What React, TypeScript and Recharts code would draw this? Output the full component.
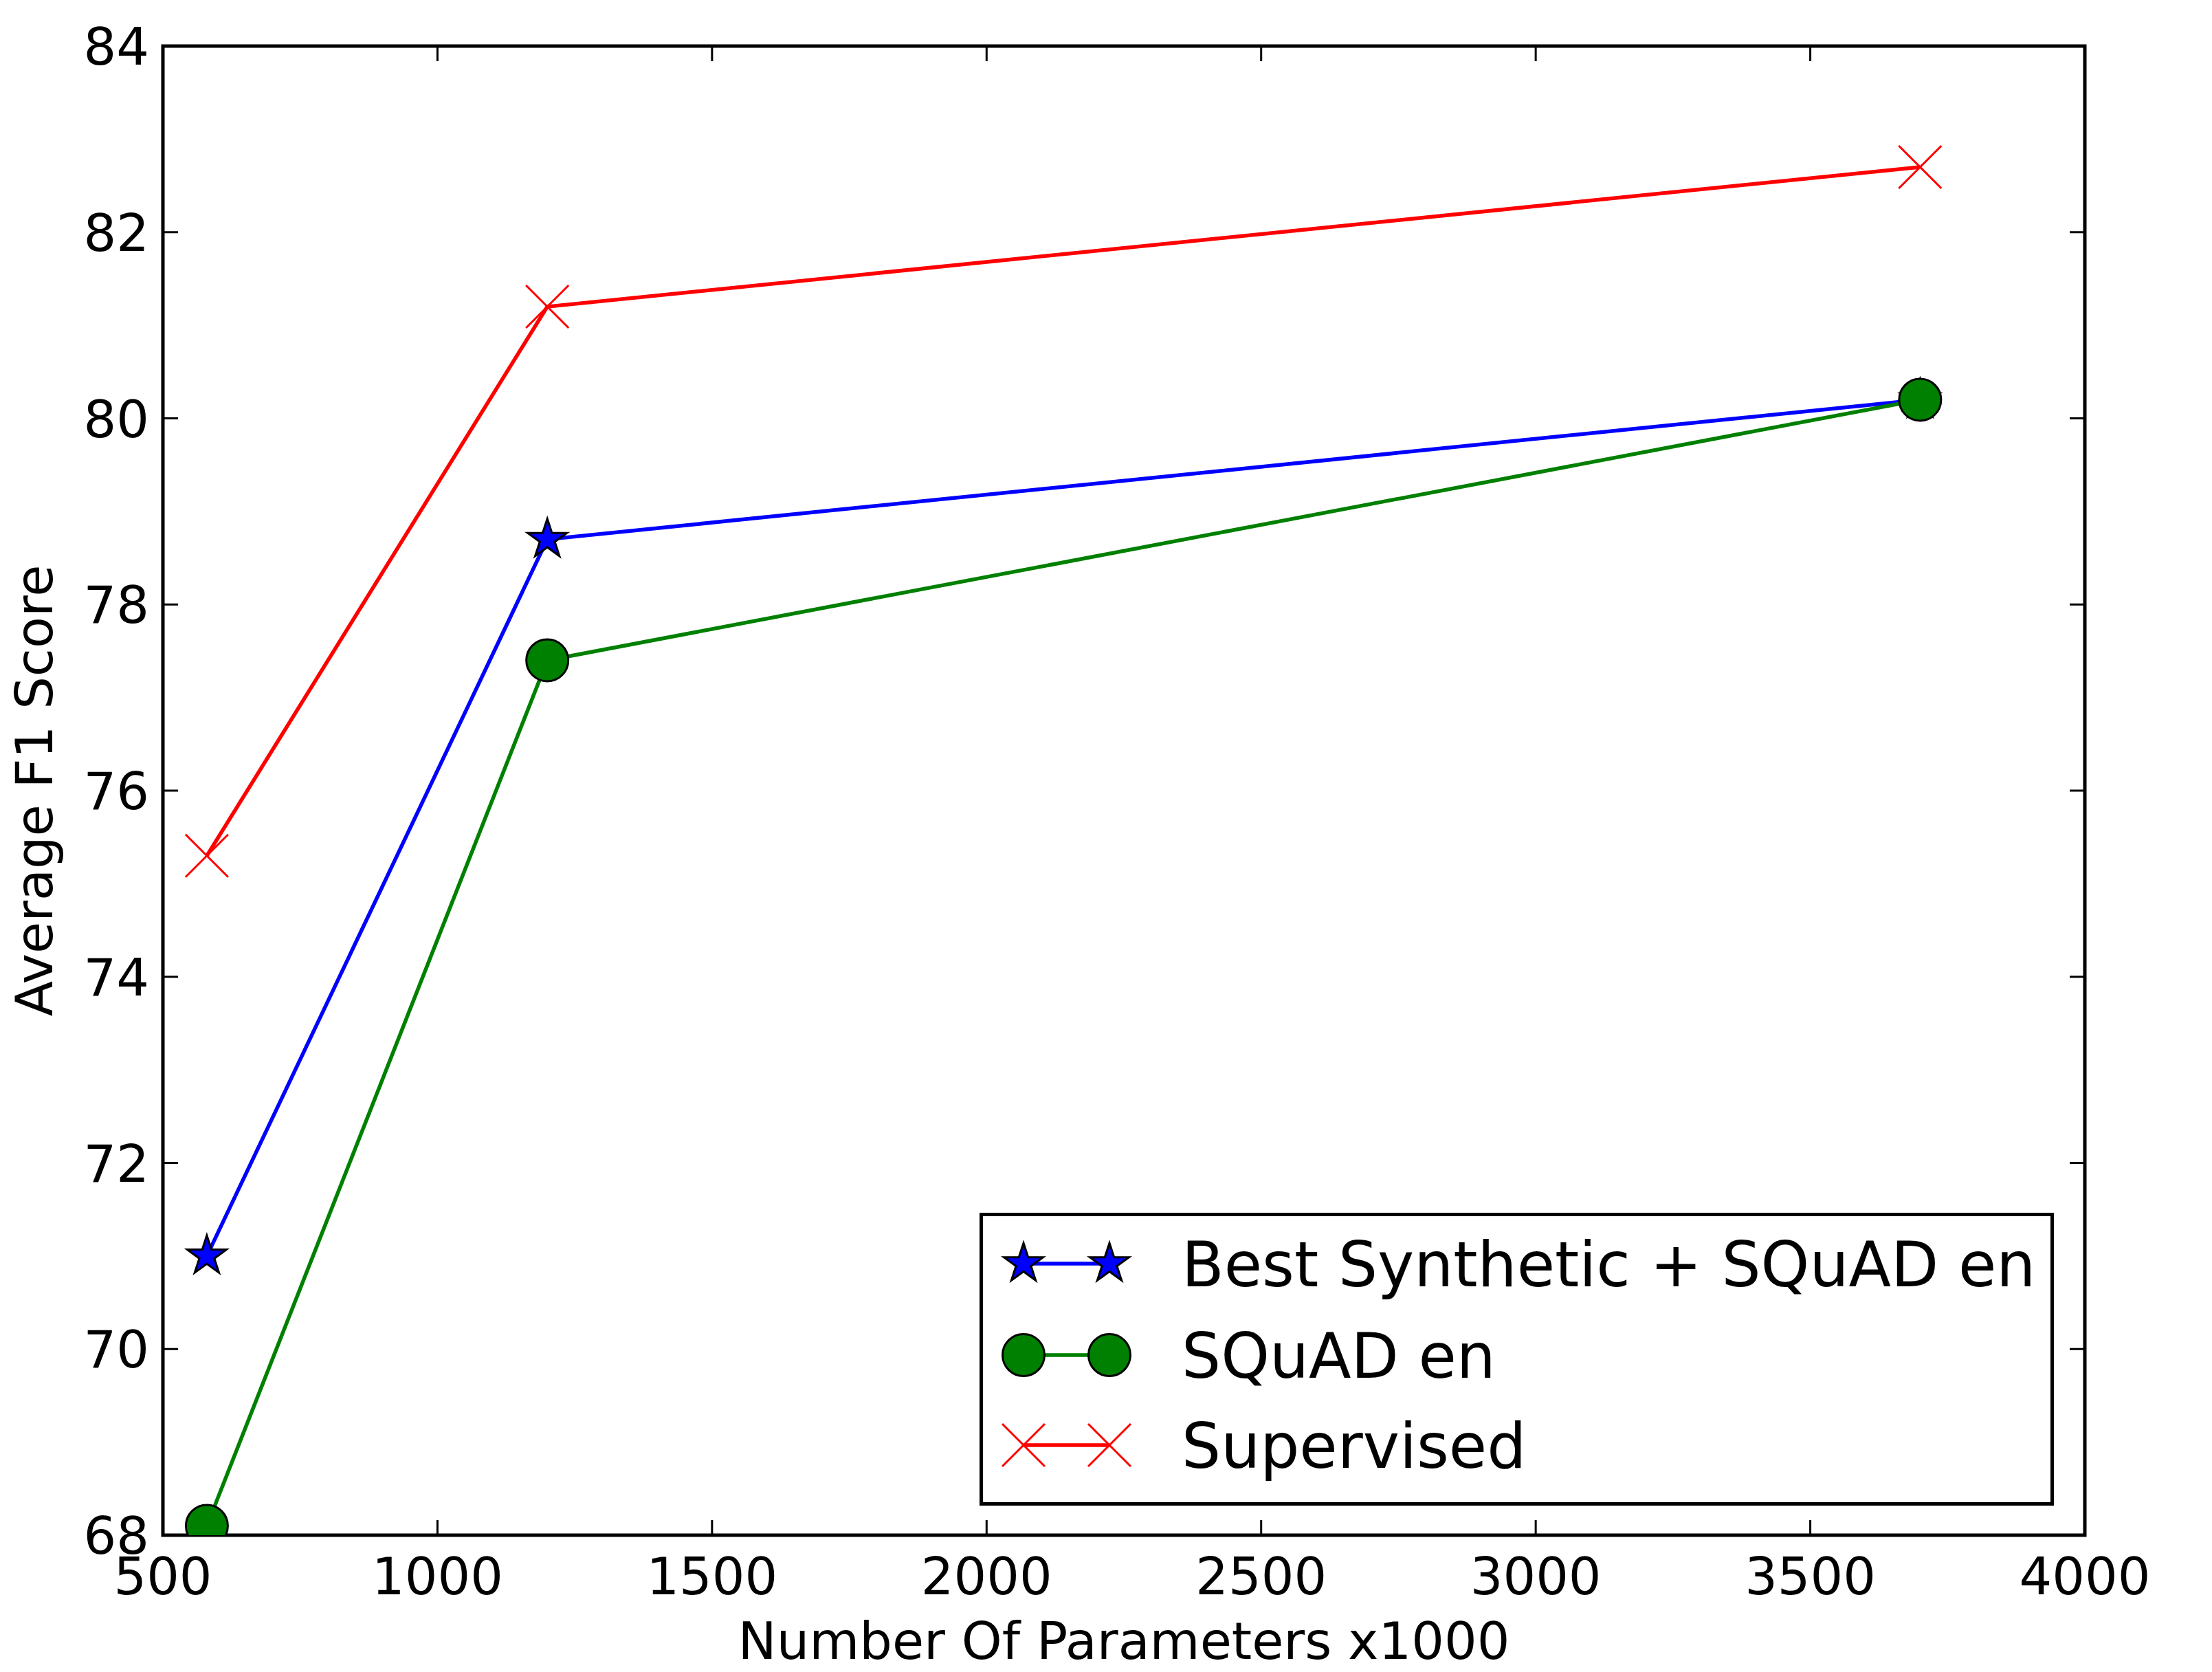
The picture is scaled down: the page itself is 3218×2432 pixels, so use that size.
import React from 'react';
import { LineChart, Line, XAxis, YAxis, ReferenceArea, Legend } from 'recharts';

const W = 3218;
const H = 2432;
const PLOT = { left: 237, top: 67, right: 3033, bottom: 2233 };
const FONT = '"DejaVu Sans", Verdana, sans-serif';
const TICK_LEN = 22;
const LINE_W = 5.5;

// values
const params = [580, 1200, 3700];
const bestSynthetic = [71.0, 78.7, 80.2];
const squadEn = [68.1, 77.4, 80.2];
const supervised = [75.3, 81.2, 82.7];

const xTicks = [500, 1000, 1500, 2000, 2500, 3000, 3500, 4000];
const yTicks = [68, 70, 72, 74, 76, 78, 80, 82, 84];

const series = [
  { key: 'best', name: 'Best Synthetic + SQuAD en', color: '#0000ff', marker: 'star' },
  { key: 'squad', name: 'SQuAD en', color: '#008000', marker: 'circle' },
  { key: 'sup', name: 'Supervised', color: '#ff0000', marker: 'x' },
];

const data = params.map((p, i) => ({
  p,
  best: bestSynthetic[i],
  squad: squadEn[i],
  sup: supervised[i],
}));

function starPoints(cx: number, cy: number, r: number) {
  const pts: string[] = [];
  const inner = r * 0.381966;
  for (let i = 0; i < 10; i++) {
    const rad = i % 2 === 0 ? r : inner;
    const a = -Math.PI / 2 + (i * Math.PI) / 5;
    pts.push(`${cx + rad * Math.cos(a)},${cy + rad * Math.sin(a)}`);
  }
  return pts.join(' ');
}

function Marker({ type, cx, cy, color }: { type: string; cx: number; cy: number; color: string }) {
  if (type === 'star') {
    return <polygon points={starPoints(cx, cy, 30)} fill={color} stroke="#000" strokeWidth={3} strokeLinejoin="miter" />;
  }
  if (type === 'circle') {
    return <circle cx={cx} cy={cy} r={30.5} fill={color} stroke="#000" strokeWidth={3} />;
  }
  const d = 31;
  return (
    <g stroke={color} strokeWidth={3}>
      <line x1={cx - d} y1={cy - d} x2={cx + d} y2={cy + d} />
      <line x1={cx - d} y1={cy + d} x2={cx + d} y2={cy - d} />
    </g>
  );
}

const XTick = (props: any) => {
  const { x, payload } = props;
  return (
    <g>
      <line x1={x} x2={x} y1={PLOT.bottom} y2={PLOT.bottom - TICK_LEN} stroke="#000" strokeWidth={3} />
      <line x1={x} x2={x} y1={PLOT.top} y2={PLOT.top + TICK_LEN} stroke="#000" strokeWidth={3} />
      <text x={x} y={PLOT.bottom + 86} textAnchor="middle" fontFamily={FONT} fontSize={75} fill="#000">
        {payload.value}
      </text>
    </g>
  );
};

const YTick = (props: any) => {
  const { y, payload } = props;
  return (
    <g>
      <line x1={PLOT.left} x2={PLOT.left + TICK_LEN} y1={y} y2={y} stroke="#000" strokeWidth={3} />
      <line x1={PLOT.right - TICK_LEN} x2={PLOT.right} y1={y} y2={y} stroke="#000" strokeWidth={3} />
      <text x={PLOT.left - 20} y={y + 27} textAnchor="end" fontFamily={FONT} fontSize={75} fill="#000">
        {payload.value}
      </text>
    </g>
  );
};

const LegendBox = () => {
  const rows = [74, 207, 338];
  return (
    <svg width={1563} height={426} style={{ display: 'block' }}>
      <rect x={2.5} y={2.5} width={1558} height={421} fill="#fff" stroke="#000" strokeWidth={5} />
      {series.map((s, i) => (
        <g key={s.key}>
          <line x1={64} x2={189} y1={rows[i]} y2={rows[i]} stroke={s.color} strokeWidth={LINE_W} />
          <Marker type={s.marker} cx={64} cy={rows[i]} color={s.color} />
          <Marker type={s.marker} cx={189} cy={rows[i]} color={s.color} />
          <text x={294} y={rows[i] + 33} fontFamily={FONT} fontSize={90} fill="#000">
            {s.name}
          </text>
        </g>
      ))}
    </svg>
  );
};

export default function App() {
  return (
    <div style={{ width: W, height: H, background: '#fff' }}>
      <style>{'body{margin:0;background:#fff}'}</style>
      <LineChart
        width={W}
        height={H}
        data={data}
        margin={{ top: PLOT.top, right: W - PLOT.right, bottom: 0, left: 0 }}
      >
        <XAxis
          type="number"
          dataKey="p"
          domain={[500, 4000]}
          ticks={xTicks}
          interval={0}
          allowDataOverflow
          axisLine={false}
          tickLine={false}
          tick={XTick}
          height={H - PLOT.bottom}
          label={{
            content: (props: any) => {
              const vb = props.viewBox || {};
              const cx = PLOT.left + (PLOT.right - PLOT.left) / 2;
              return (
                <text x={cx} y={(vb.y ?? PLOT.bottom) + 180} textAnchor="middle" fontFamily={FONT} fontSize={75} fill="#000">
                  Number Of Parameters x1000
                </text>
              );
            },
          }}
        />
        <YAxis
          type="number"
          domain={[68, 84]}
          ticks={yTicks}
          interval={0}
          allowDataOverflow
          axisLine={false}
          tickLine={false}
          tick={YTick}
          width={PLOT.left}
          label={{
            content: () => {
              const cy = PLOT.top + (PLOT.bottom - PLOT.top) / 2;
              return (
                <text x={76} y={cy} transform={`rotate(-90 76 ${cy})`} textAnchor="middle" fontFamily={FONT} fontSize={75} fill="#000">
                  Average F1 Score
                </text>
              );
            },
          }}
        />
        {series.map((s) => (
          <Line
            key={s.key}
            type="linear"
            dataKey={s.key}
            name={s.name}
            stroke={s.color}
            strokeWidth={LINE_W}
            isAnimationActive={false}
            dot={(props: any) => (
              <g key={`${s.key}-${props.index}`}>
                <Marker type={s.marker} cx={props.cx} cy={props.cy} color={s.color} />
              </g>
            )}
            activeDot={false}
          />
        ))}
        <ReferenceArea x1={500} x2={4000} y1={68} y2={84} fill="none" stroke="#000" strokeWidth={5} ifOverflow="visible" />
        <Legend
          layout="vertical"
          align="center"
          verticalAlign="middle"
          content={() => <LegendBox />}
          wrapperStyle={{ left: 1425, top: 1764, width: 1563, height: 426 }}
        />
      </LineChart>
    </div>
  );
}
